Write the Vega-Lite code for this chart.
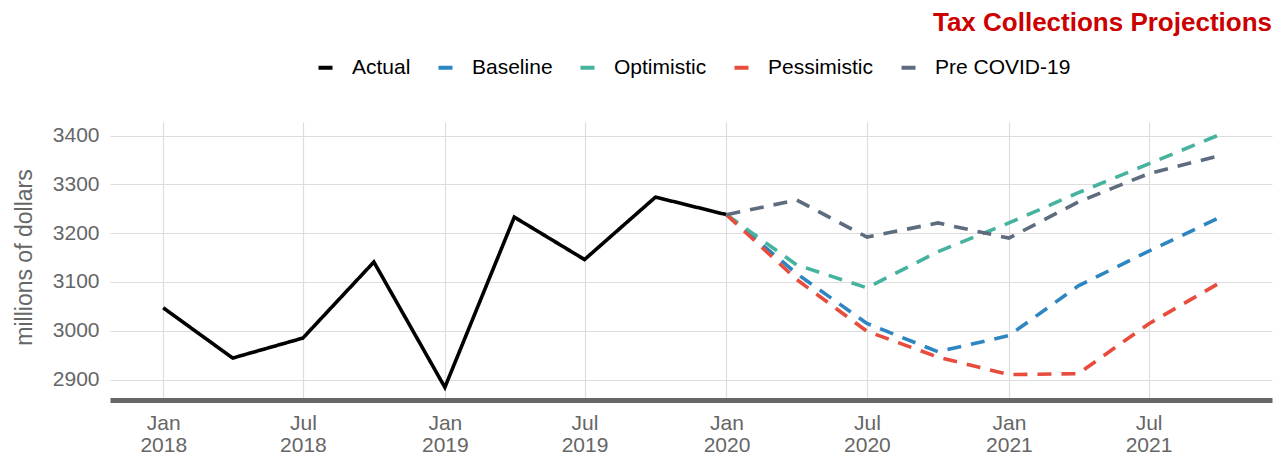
{
  "$schema": "https://vega.github.io/schema/vega-lite/v6.json",
  "width": 1162,
  "height": 278,
  "autosize": {"type": "none"},
  "padding": {"left": 110, "top": 122, "right": 2, "bottom": 56},
  "background": "white",
  "title": {
    "text": "Tax Collections Projections",
    "anchor": "end",
    "font": "Liberation Sans",
    "fontSize": 26,
    "fontWeight": "bold",
    "color": "#CC0000",
    "offset": 21
  },
  "config": {
    "view": {"stroke": null},
    "font": "Liberation Sans"
  },
  "data": {
    "values": [
      {"date": "2018-01-01", "series": "Actual", "value": 3047},
      {"date": "2018-04-01", "series": "Actual", "value": 2944},
      {"date": "2018-07-01", "series": "Actual", "value": 2985},
      {"date": "2018-10-01", "series": "Actual", "value": 3141},
      {"date": "2019-01-01", "series": "Actual", "value": 2884},
      {"date": "2019-04-01", "series": "Actual", "value": 3233},
      {"date": "2019-07-01", "series": "Actual", "value": 3146},
      {"date": "2019-10-01", "series": "Actual", "value": 3274},
      {"date": "2020-01-01", "series": "Actual", "value": 3238},
      {"date": "2020-01-01", "series": "Baseline", "value": 3238},
      {"date": "2020-04-01", "series": "Baseline", "value": 3117},
      {"date": "2020-07-01", "series": "Baseline", "value": 3015},
      {"date": "2020-10-01", "series": "Baseline", "value": 2957},
      {"date": "2021-01-01", "series": "Baseline", "value": 2990},
      {"date": "2021-04-01", "series": "Baseline", "value": 3092},
      {"date": "2021-07-01", "series": "Baseline", "value": 3163},
      {"date": "2021-10-01", "series": "Baseline", "value": 3232},
      {"date": "2020-01-01", "series": "Optimistic", "value": 3238},
      {"date": "2020-04-01", "series": "Optimistic", "value": 3135},
      {"date": "2020-07-01", "series": "Optimistic", "value": 3088},
      {"date": "2020-10-01", "series": "Optimistic", "value": 3162},
      {"date": "2021-01-01", "series": "Optimistic", "value": 3221},
      {"date": "2021-04-01", "series": "Optimistic", "value": 3283},
      {"date": "2021-07-01", "series": "Optimistic", "value": 3342},
      {"date": "2021-10-01", "series": "Optimistic", "value": 3402},
      {"date": "2020-01-01", "series": "Pessimistic", "value": 3238},
      {"date": "2020-04-01", "series": "Pessimistic", "value": 3105},
      {"date": "2020-07-01", "series": "Pessimistic", "value": 2999},
      {"date": "2020-10-01", "series": "Pessimistic", "value": 2946},
      {"date": "2021-01-01", "series": "Pessimistic", "value": 2910},
      {"date": "2021-04-01", "series": "Pessimistic", "value": 2912},
      {"date": "2021-07-01", "series": "Pessimistic", "value": 3014},
      {"date": "2021-10-01", "series": "Pessimistic", "value": 3098},
      {"date": "2020-01-01", "series": "Pre COVID-19", "value": 3238},
      {"date": "2020-04-01", "series": "Pre COVID-19", "value": 3268},
      {"date": "2020-07-01", "series": "Pre COVID-19", "value": 3192},
      {"date": "2020-10-01", "series": "Pre COVID-19", "value": 3221},
      {"date": "2021-01-01", "series": "Pre COVID-19", "value": 3190},
      {"date": "2021-04-01", "series": "Pre COVID-19", "value": 3264},
      {"date": "2021-07-01", "series": "Pre COVID-19", "value": 3322},
      {"date": "2021-10-01", "series": "Pre COVID-19", "value": 3359}
    ]
  },
  "mark": {"type": "line", "strokeWidth": 3.6, "strokeCap": "butt", "strokeJoin": "miter"},
  "encoding": {
    "x": {
      "field": "date",
      "type": "temporal",
      "scale": {
        "type": "utc",
        "domain": [
          {"year": 2017, "month": 10, "date": 24, "utc": true},
          {"year": 2021, "month": 12, "date": 8, "utc": true}
        ],
        "nice": false
      },
      "axis": {
        "title": null,
        "values": [
          {"year": 2018, "month": 1, "date": 1, "utc": true},
          {"year": 2018, "month": 7, "date": 1, "utc": true},
          {"year": 2019, "month": 1, "date": 1, "utc": true},
          {"year": 2019, "month": 7, "date": 1, "utc": true},
          {"year": 2020, "month": 1, "date": 1, "utc": true},
          {"year": 2020, "month": 7, "date": 1, "utc": true},
          {"year": 2021, "month": 1, "date": 1, "utc": true},
          {"year": 2021, "month": 7, "date": 1, "utc": true}
        ],
        "labelExpr": "[utcFormat(datum.value, '%b'), utcFormat(datum.value, '%Y')]",
        "labelFontSize": 21,
        "labelColor": "#666666",
        "labelLineHeight": 22,
        "labelPadding": 12,
        "labelFlush": false,
        "labelOverlap": false,
        "ticks": false,
        "grid": true,
        "gridColor": "#DDDDDD",
        "gridWidth": 1.2,
        "domain": true,
        "domainColor": "#666666",
        "domainWidth": 5
      }
    },
    "y": {
      "field": "value",
      "type": "quantitative",
      "scale": {"domain": [2858, 3428], "nice": false, "zero": false},
      "axis": {
        "title": "millions of dollars",
        "titleFontSize": 23,
        "titleFontWeight": "normal",
        "titleColor": "#666666",
        "titlePadding": 16,
        "titleY": 135,
        "values": [2900, 3000, 3100, 3200, 3300, 3400],
        "format": "d",
        "labelFontSize": 21,
        "labelColor": "#666666",
        "labelPadding": 11,
        "ticks": false,
        "domain": false,
        "grid": true,
        "gridColor": "#DDDDDD",
        "gridWidth": 1.2
      }
    },
    "color": {
      "field": "series",
      "type": "nominal",
      "scale": {
        "domain": ["Actual", "Baseline", "Optimistic", "Pessimistic", "Pre COVID-19"],
        "range": ["#000000", "#2E86C1", "#45B39D", "#E74C3C", "#5D6D7E"]
      },
      "legend": {
        "title": null,
        "orient": "none",
        "direction": "horizontal",
        "legendX": 205,
        "legendY": -65,
        "padding": 0,
        "symbolType": "stroke",
        "symbolSize": 196,
        "symbolStrokeWidth": 4,
        "labelFontSize": 21,
        "labelColor": "#000000",
        "labelOffset": 16,
        "columnPadding": 19
      }
    },
    "strokeDash": {
      "field": "series",
      "type": "nominal",
      "scale": {
        "domain": ["Actual", "Baseline", "Optimistic", "Pessimistic", "Pre COVID-19"],
        "range": [[1, 0], [14, 10], [14, 10], [14, 10], [14, 10]]
      },
      "legend": null
    }
  }
}
